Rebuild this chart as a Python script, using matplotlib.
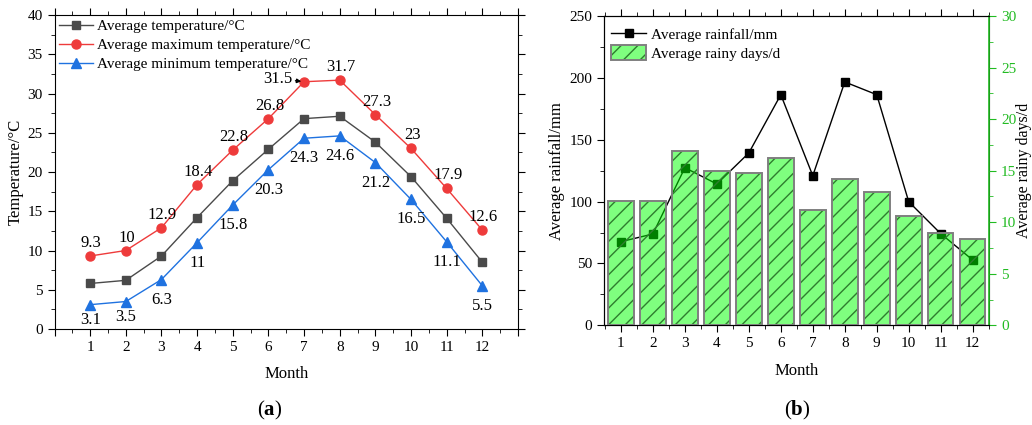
import matplotlib
matplotlib.use("Agg")
import matplotlib.pyplot as plt
from matplotlib.patches import Patch
from matplotlib.lines import Line2D
from matplotlib.legend_handler import HandlerTuple
from matplotlib.ticker import MultipleLocator

plt.rcParams['font.family'] = ['Liberation Serif', 'DejaVu Serif']
plt.rcParams['mathtext.fontset'] = 'custom'
plt.rcParams['mathtext.rm'] = 'Liberation Serif'
plt.rcParams['mathtext.bf'] = 'Liberation Serif:bold'

months = [1, 2, 3, 4, 5, 6, 7, 8, 9, 10, 11, 12]
avg_temp = [5.8, 6.2, 9.3, 14.2, 18.9, 22.9, 26.8, 27.1, 23.8, 19.4, 14.1, 8.5]
max_temp = [9.3, 10, 12.9, 18.4, 22.8, 26.8, 31.5, 31.7, 27.3, 23, 17.9, 12.6]
min_temp = [3.1, 3.5, 6.3, 11, 15.8, 20.3, 24.3, 24.6, 21.2, 16.5, 11.1, 5.5]
rainfall = [67.6, 73.8, 127.4, 114.2, 139.3, 186.4, 120.9, 196.7, 186.4, 99.9, 74.1, 52.8]
rainy_days = [12.1, 12.1, 16.9, 15.0, 14.8, 16.2, 11.2, 14.2, 12.9, 10.6, 9.0, 8.4]

C_GRAY = '#4a4a4a'
C_RED = '#ee3b3b'
C_BLUE = '#1f72e0'
C_GREEN = '#22bb22'

TICK_FS = 11
LAB_FS = 12
LEG_FS = 11
ANN_FS = 12

fig = plt.figure(figsize=(10.32, 4.25), dpi=100)

# ---------- (a) ----------
ax = fig.add_axes([54.5/1032, 1-329/425, (518-54.5)/1032, (329-15)/425])
ax.plot(months, avg_temp, color=C_GRAY, lw=1, marker='s', ms=6, label='Average temperature/°C')
ax.plot(months, max_temp, color=C_RED, lw=1, marker='o', ms=6.5, label='Average maximum temperature/°C')
ax.plot(months, min_temp, color=C_BLUE, lw=1, marker='^', ms=7, label='Average minimum temperature/°C')
ax.set_xlim(0, 13)
ax.set_ylim(0, 40)
ax.set_xticks(range(0, 14))
ax.set_xticklabels([''] + [str(m) for m in months] + [''])
ax.xaxis.set_minor_locator(MultipleLocator(0.5))
ax.yaxis.set_major_locator(MultipleLocator(5))
ax.yaxis.set_minor_locator(MultipleLocator(2.5))
ax.tick_params(which='both', direction='out', top=True, right=True, labelsize=TICK_FS)
ax.tick_params(which='major', length=5)
ax.tick_params(which='minor', length=3)
ax.set_xlabel('Month', fontsize=LAB_FS, labelpad=9)
ax.set_ylabel('Temperature/°C', fontsize=LAB_FS, labelpad=3)
ax.legend(loc='upper left', bbox_to_anchor=(0, 1.0), borderaxespad=0, borderpad=0.3,
          frameon=False, fontsize=LEG_FS, handlelength=2.2, handletextpad=0.25, labelspacing=0.35)

for m, v in zip(months, max_temp):
    if m == 7:
        ax.annotate(f'{v:g}', xy=(m, v), xytext=(-26, 3), textcoords='offset pixels',
                    ha='center', va='center', fontsize=ANN_FS,
                    arrowprops=dict(arrowstyle='-|>', color='black', lw=1, mutation_scale=6,
                                    shrinkA=14, shrinkB=2))
    else:
        ax.annotate(f'{v:g}', xy=(m, v), xytext=(1, 13), textcoords='offset pixels',
                    ha='center', va='center', fontsize=ANN_FS)
for m, v in zip(months, min_temp):
    dy = -15 if m <= 2 else -20
    ax.annotate(f'{v:g}', xy=(m, v), xytext=(0, dy), textcoords='offset pixels',
                ha='center', va='center', fontsize=ANN_FS)

fig.text(270/1032, 1-410/425, r'($\mathbf{a}$)', ha='center', va='center', fontsize=15)

# ---------- (b) ----------
bx = fig.add_axes([604.3/1032, 1-325.3/425, (989.3-604.3)/1032, (325.3-16)/425])
bx.plot(months, rainfall, color='black', lw=1, marker='s', ms=5.5, zorder=1)
bx.set_xlim(0.48, 12.52)
bx.set_ylim(0, 250)
bx.yaxis.set_major_locator(MultipleLocator(50))
bx.yaxis.set_minor_locator(MultipleLocator(25))
bx.set_xticks(months)
bx.xaxis.set_minor_locator(MultipleLocator(0.5))
bx.set_xlabel('Month', fontsize=LAB_FS, labelpad=9)
bx.set_ylabel('Average rainfall/mm', fontsize=LAB_FS, labelpad=3)

bx2 = bx.twinx()
bx2.bar(months, rainy_days, width=0.8, color=(0, 1, 0, 0.5), edgecolor='#2e7d2e', lw=0,
        hatch='//', zorder=2)
bx2.bar(months, rainy_days, width=0.8, facecolor='none', edgecolor='#7f7f7f', lw=1.4, zorder=3)
bx2.set_ylim(0, 30)
bx2.yaxis.set_major_locator(MultipleLocator(5))
bx2.yaxis.set_minor_locator(MultipleLocator(2.5))
bx2.tick_params(axis='y', which='both', direction='out', colors=C_GREEN, labelsize=TICK_FS)
bx2.tick_params(axis='y', which='major', length=5)
bx2.tick_params(axis='y', which='minor', length=3)
bx2.spines['right'].set_color(C_GREEN)
bx2.spines['right'].set_linewidth(1.2)
bx2.set_ylabel('Average rainy days/d', fontsize=11.5, color='black', labelpad=0)

bx.tick_params(axis='x', which='both', direction='out', top=True, bottom=True, labelsize=TICK_FS)
bx.tick_params(axis='y', which='both', direction='out', left=True, right=False, labelsize=TICK_FS)
bx.tick_params(which='major', length=5)
bx.tick_params(which='minor', length=3)

h_line = Line2D([], [], color='black', lw=1, marker='s', ms=5.5)
h_bar1 = Patch(facecolor=(0, 1, 0, 0.5), edgecolor='#2e7d2e', lw=0, hatch='//')
h_bar2 = Patch(facecolor='none', edgecolor='#7f7f7f', lw=1.4)
bx2.legend([h_line, (h_bar1, h_bar2)], ['Average rainfall/mm', 'Average rainy days/d'],
           handler_map={tuple: HandlerTuple(ndivide=1, pad=0)},
           loc='upper left', bbox_to_anchor=(0.01, 0.975), borderaxespad=0, borderpad=0.2,
           frameon=False, fontsize=LEG_FS, handlelength=2.3, handleheight=1.1,
           handletextpad=0.3, labelspacing=0.2)

fig.text(797/1032, 1-410/425, r'($\mathbf{b}$)', ha='center', va='center', fontsize=15)

fig.savefig('out.png', dpi=100)
